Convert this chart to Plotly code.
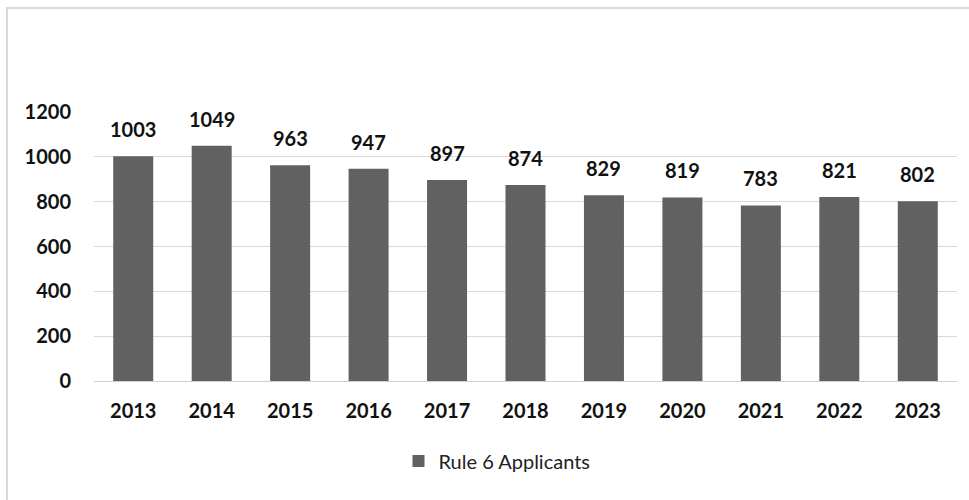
import plotly.graph_objects as go

years = ["2013", "2014", "2015", "2016", "2017", "2018", "2019", "2020", "2021", "2022", "2023"]
applicants = [1003, 1049, 963, 947, 897, 874, 829, 819, 783, 821, 802]
series_name = "Rule 6 Applicants"
y_ticks = [0, 200, 400, 600, 800, 1000, 1200]

W, H = 969, 500
L, R, T, B = 94, 12, 112, 119
pw = W - L - R
ph = H - T - B

fig = go.Figure()
fig.add_trace(go.Bar(
    x=years, y=applicants, name=series_name,
    marker=dict(color="#616161", line=dict(width=0)),
))

for i, v in enumerate(applicants):
    fig.add_annotation(x=i, y=v, text=str(v), showarrow=False,
                       xref="x", yref="y",
                       yanchor="bottom", yshift=13,
                       font=dict(family="Lato", size=20, color="#111111", weight="bold"))

fig.update_layout(
    width=W, height=H,
    margin=dict(l=L, r=R, t=T, b=B),
    paper_bgcolor="white", plot_bgcolor="white",
    bargap=0.49,
    showlegend=True,
    legend=dict(orientation="h", x=(497 - L) / pw, xanchor="center", y=-0.225, yanchor="top",
                font=dict(family="Lato", size=20, color="#222222")),
    xaxis=dict(type="category", categoryorder="array", categoryarray=years,
               range=[-0.5, len(years) - 0.5],
               tickfont=dict(family="Lato", size=20, color="#111111", weight="bold"),
               showgrid=False, showline=False, ticks="", ticklabelstandoff=16),
    yaxis=dict(range=[0, 1200], tickvals=y_ticks,
               tickfont=dict(family="Lato", size=20, color="#111111", weight="bold"),
               showgrid=True, gridcolor="#d9d9d9", gridwidth=1,
               zeroline=True, zerolinecolor="#cfcfcf", zerolinewidth=1,
               showline=False, ticks="", ticklabelstandoff=22),
    shapes=[dict(type="rect", xref="paper", yref="paper",
                 x0=(7 - L) / pw, x1=1.2, y0=-1.5, y1=(H - B - 8) / ph,
                 line=dict(color="#d9d9d9", width=2), fillcolor="rgba(0,0,0,0)", layer="below")],
)

fig.write_html("out.html")
